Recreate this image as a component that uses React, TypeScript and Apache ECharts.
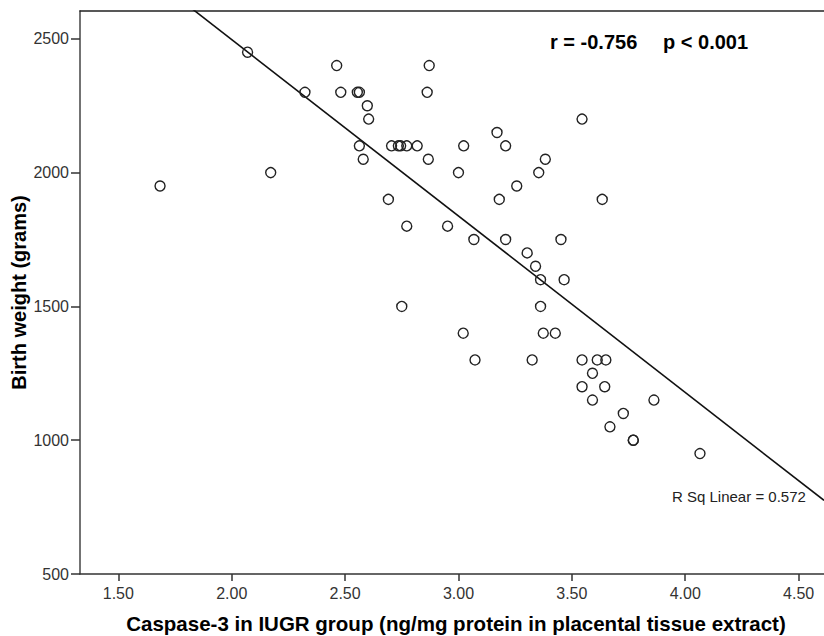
import React, { useEffect, useRef } from "react";
import * as echarts from "echarts";

const caspaseValues = [
  1.684, 2.07, 2.172, 2.323, 2.463, 2.481, 2.554, 2.563, 2.563, 2.58,
  2.598, 2.604, 2.691, 2.705, 2.735, 2.745, 2.75, 2.772, 2.772, 2.818,
  2.862, 2.867, 2.871, 2.952, 3.0, 3.021, 3.023, 3.068, 3.073, 3.17,
  3.18, 3.208, 3.208, 3.257, 3.303, 3.325, 3.34, 3.354, 3.362, 3.362,
  3.374, 3.383, 3.427, 3.452, 3.466, 3.545, 3.545, 3.545, 3.591, 3.591,
  3.612, 3.634, 3.645, 3.65, 3.668, 3.727, 3.771, 3.771, 3.862, 4.065,
];
const birthWeights = [
  1950, 2450, 2000, 2300, 2400, 2300, 2300, 2300, 2100, 2050,
  2250, 2200, 1900, 2100, 2100, 2100, 1500, 2100, 1800, 2100,
  2300, 2050, 2400, 1800, 2000, 1400, 2100, 1750, 1300, 2150,
  1900, 2100, 1750, 1950, 1700, 1300, 1650, 2000, 1600, 1500,
  1400, 2050, 1400, 1750, 1600, 2200, 1300, 1200, 1250, 1150,
  1300, 1900, 1200, 1300, 1050, 1100, 1000, 1000, 1150, 950,
];
const xTickValues = [1.5, 2.0, 2.5, 3.0, 3.5, 4.0, 4.5];
const yTickValues = [500, 1000, 1500, 2000, 2500];
const xRange = [1.331, 4.612];
const yRange = [500, 2604];
const fitIntercept = 3815.8;
const fitSlope = -659.3;
const statLeft = "r = -0.756";
const statRight = "p < 0.001";
const rSqLabel = "R Sq Linear = 0.572";
const xName = "Caspase-3 in IUGR group (ng/mg protein in placental tissue extract)";
const yName = "Birth weight (grams)";

const FONT = "'Liberation Sans', Arial, sans-serif";

export default function App() {
  const ref = useRef<HTMLDivElement>(null);
  useEffect(() => {
    document.body.style.margin = "0";
    if (!ref.current) return;
    const chart = echarts.init(ref.current, undefined, { renderer: "svg" });
    const points = caspaseValues.map((x, i) => [x, birthWeights[i]]);
    const fitLine = xRange.map((x) => [x, fitIntercept + fitSlope * x]);
    chart.setOption({
      animation: false,
      backgroundColor: "#ffffff",
      textStyle: { fontFamily: FONT },
      grid: { left: 80, right: 0, top: 11, bottom: 62, containLabel: false, outerBoundsMode: "none" },
      xAxis: [
        {
          type: "value",
          position: "bottom",
          min: xRange[0],
          max: xRange[1],
          splitLine: { show: false },
          axisLine: { show: true, onZero: false, lineStyle: { color: "#333", width: 1.5 } },
          axisTick: { show: true, customValues: xTickValues, length: 7, lineStyle: { color: "#333", width: 1.5 } },
          axisLabel: {
            customValues: xTickValues,
            formatter: (v: number) => v.toFixed(2),
            color: "#333",
            fontSize: 16,
            fontFamily: FONT,
            margin: 11,
          },
          name: xName,
          nameLocation: "middle",
          nameGap: 39,
          nameMoveOverlap: false,
          nameTextStyle: { color: "#000", fontSize: 20.5, fontWeight: "bold", fontFamily: FONT, padding: [0, 0, 0, 8] },
        },
        {
          type: "value",
          position: "top",
          min: xRange[0],
          max: xRange[1],
          splitLine: { show: false },
          axisLine: { show: true, onZero: false, lineStyle: { color: "#222", width: 1.5 } },
          axisTick: { show: false },
          axisLabel: { show: false },
        },
      ],
      yAxis: {
        type: "value",
        min: yRange[0],
        max: yRange[1],
        splitLine: { show: false },
        axisLine: { show: true, onZero: false, lineStyle: { color: "#444", width: 1.5 } },
        axisTick: { show: true, customValues: yTickValues, length: 9, lineStyle: { color: "#333", width: 1.5 } },
        axisLabel: {
          customValues: yTickValues,
          formatter: (v: number) => String(v),
          color: "#333",
          fontSize: 16,
          fontFamily: FONT,
          margin: 11,
        },
        name: yName,
        nameLocation: "middle",
        nameGap: 51,
        nameMoveOverlap: false,
        nameTextStyle: { color: "#000", fontSize: 20, fontWeight: "bold", fontFamily: FONT },
      },
      series: [
        {
          type: "scatter",
          data: points,
          symbol: "circle",
          symbolSize: 10,
          itemStyle: { color: "rgba(0,0,0,0)", borderColor: "#222", borderWidth: 1.4, opacity: 1 },
          z: 3,
        },
        {
          type: "line",
          data: fitLine,
          clip: true,
          symbol: "none",
          lineStyle: { color: "#111", width: 1.6 },
          z: 2,
        },
      ],
      graphic: [
        {
          type: "text",
          x: 550,
          y: 42,
          style: { text: statLeft, fontSize: 20, fontWeight: "bold", fontFamily: FONT, fill: "#000", align: "left", verticalAlign: "middle" },
        },
        {
          type: "text",
          x: 663,
          y: 42,
          style: { text: statRight, fontSize: 20, fontWeight: "bold", fontFamily: FONT, fill: "#000", align: "left", verticalAlign: "middle" },
        },
        {
          type: "text",
          x: 672,
          y: 496,
          style: { text: rSqLabel, fontSize: 15, fontFamily: FONT, fill: "#222", align: "left", verticalAlign: "middle" },
        },
      ],
    });
    return () => chart.dispose();
  }, []);
  return <div ref={ref} style={{ width: 824, height: 636 }} />;
}
